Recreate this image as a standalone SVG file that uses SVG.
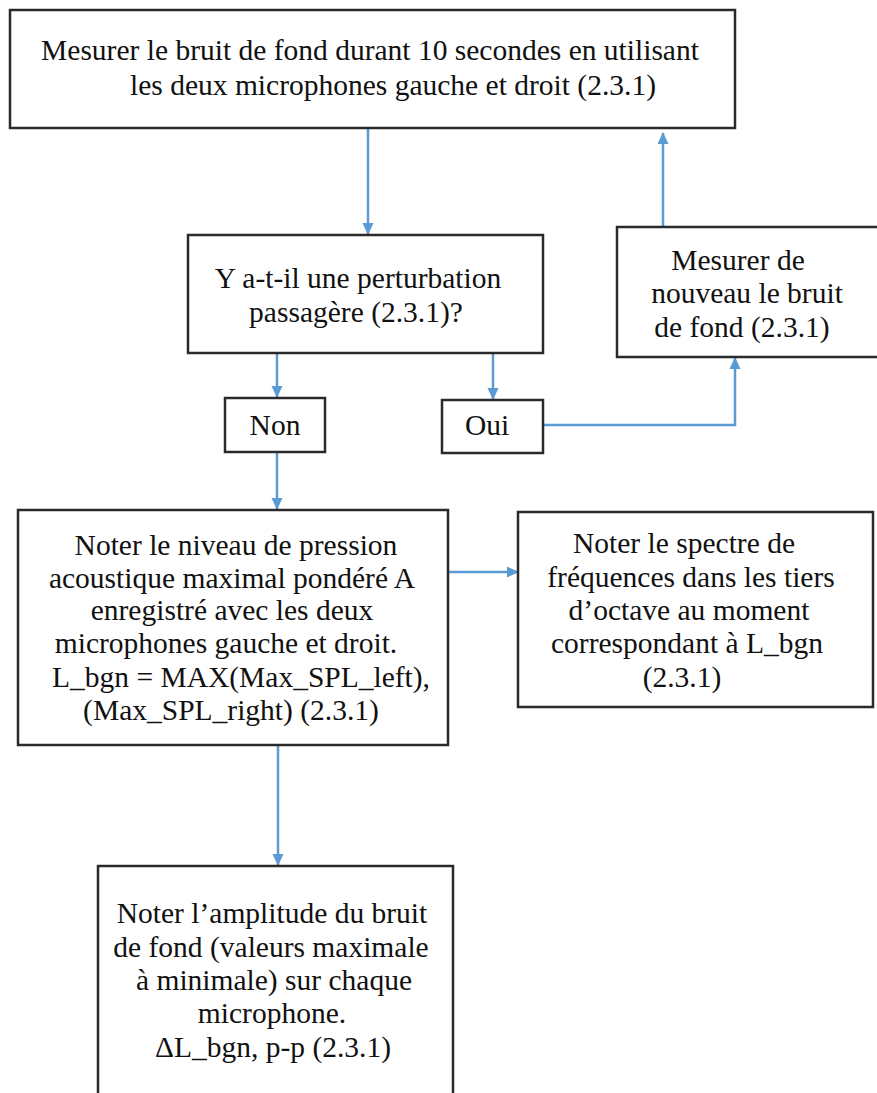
<svg xmlns="http://www.w3.org/2000/svg" width="877" height="1093" viewBox="0 0 877 1093">
<defs>
<marker id="ah" markerWidth="12" markerHeight="12" refX="11" refY="6" orient="auto" markerUnits="userSpaceOnUse">
<path d="M0,0.5 L12,6 L0,11.5 Z" fill="#5b9bd5"/>
</marker>
<style>
.box{fill:#fff;stroke:#2a2a2a;stroke-width:2.5}
.t{font-size:29.5px;fill:#111;text-anchor:middle}
.c{fill:none;stroke:#5b9bd5;stroke-width:2.5}
</style>
</defs>
<rect width="877" height="1093" fill="#fff"/>
<g id="connectors">
<line class="c" x1="368" y1="129" x2="368" y2="234" marker-end="url(#ah)"/>
<line class="c" x1="277" y1="354" x2="277" y2="397" marker-end="url(#ah)"/>
<line class="c" x1="493" y1="354" x2="493" y2="399" marker-end="url(#ah)"/>
<polyline class="c" points="543,425 735,425 735,358" marker-end="url(#ah)"/>
<line class="c" x1="663" y1="227" x2="663" y2="133" marker-end="url(#ah)"/>
<line class="c" x1="277" y1="453" x2="277" y2="509" marker-end="url(#ah)"/>
<line class="c" x1="448" y1="572" x2="518" y2="572" marker-end="url(#ah)"/>
<line class="c" x1="278" y1="746" x2="278" y2="865" marker-end="url(#ah)"/>
</g>
<g font-family="'Liberation Serif', 'DejaVu Serif', 'Times New Roman', serif">
<g id="n1">
<rect class="box" x="10" y="10" width="725" height="118"/>
<text class="t" x="370" y="60" font-size="30.6">Mesurer le bruit de fond durant 10 secondes en utilisant</text>
<text class="t" x="393" y="95" font-size="30.2">les deux microphones gauche et droit (2.3.1)</text>
</g>
<g id="n2">
<rect class="box" x="188" y="235" width="355" height="118"/>
<text class="t" x="358" y="288">Y a-t-il une perturbation</text>
<text class="t" x="356" y="322">passagère (2.3.1)?</text>
</g>
<g id="n3">
<rect class="box" x="225" y="398" width="100" height="54"/>
<text class="t" x="275" y="435">Non</text>
</g>
<g id="n4">
<rect class="box" x="442" y="400" width="101" height="53"/>
<text class="t" x="487" y="435">Oui</text>
</g>
<g id="n5">
<rect class="box" x="617" y="227" width="262" height="130"/>
<text class="t" x="738" y="270">Mesurer de</text>
<text class="t" x="747" y="303">nouveau le bruit</text>
<text class="t" x="742" y="337">de fond (2.3.1)</text>
</g>
<g id="n6">
<rect class="box" x="18" y="510" width="430" height="235"/>
<text class="t" x="236" y="555">Noter le niveau de pression</text>
<text class="t" x="232" y="588">acoustique maximal pondéré A</text>
<text class="t" x="232" y="620">enregistré avec les deux</text>
<text class="t" x="226" y="653">microphones gauche et droit.</text>
<text class="t" x="241" y="687">L_bgn = MAX(Max_SPL_left),</text>
<text class="t" x="231" y="720">(Max_SPL_right) (2.3.1)</text>
</g>
<g id="n7">
<rect class="box" x="518" y="512" width="355" height="195"/>
<text class="t" x="684" y="553">Noter le spectre de</text>
<text class="t" x="691" y="587">fréquences dans les tiers</text>
<text class="t" x="689" y="620">d’octave au moment</text>
<text class="t" x="687" y="653">correspondant à L_bgn</text>
<text class="t" x="682" y="687">(2.3.1)</text>
</g>
<g id="n8">
<rect class="box" x="98" y="866" width="355" height="240"/>
<text class="t" x="272" y="923">Noter l’amplitude du bruit</text>
<text class="t" x="271" y="957">de fond (valeurs maximale</text>
<text class="t" x="274" y="990">à minimale) sur chaque</text>
<text class="t" x="272" y="1023">microphone.</text>
<text class="t" x="273" y="1057">ΔL_bgn, p-p (2.3.1)</text>
</g>
</g>
</svg>
